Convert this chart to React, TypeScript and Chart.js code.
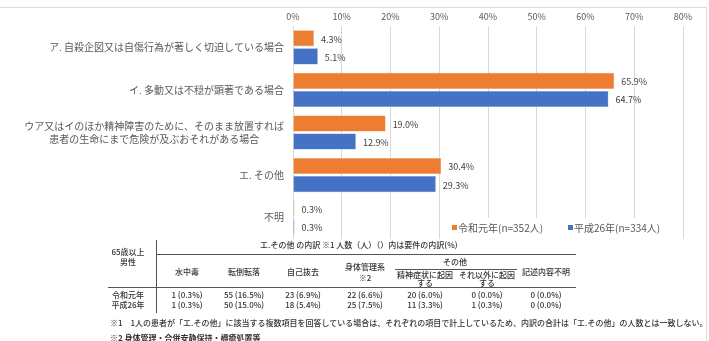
import React, { useEffect, useRef } from 'react';
import { Chart, registerables } from 'chart.js';
Chart.register(...registerables);

const categories: (string | string[])[] = [
  'ア. 自殺企図又は自傷行為が著しく切迫している場合',
  'イ. 多動又は不穏が顕著である場合',
  ['ウア又はイのほか精神障害のために、そのまま放置すれば', '患者の生命にまで危険が及ぶおそれがある場合'],
  'エ. その他',
  '不明',
];
const seriesLabels = ['令和元年(n=352人)', '平成26年(n=334人)'];
const seriesColors = ['#ED7D31', '#4472C4'];
const reiwa = [4.3, 65.9, 19.0, 30.4, 0.3];
const heisei = [5.1, 64.7, 12.9, 29.3, 0.3];
const xMax = 80;
const xStep = 10;

const tableTitle = 'エ.その他 の内訳 ※1 人数（人）（）内は要件の内訳(%)';
const tableCorner = ['65歳以上', '男性'];
const tableCols = ['水中毒', '転倒転落', '自己抜去', '身体管理系', 'その他', '記述内容不明'];
const otherSub = [['精神症状に起因', 'する'], ['それ以外に起因', 'する']];
const tableRows = ['令和元年', '平成26年'];
const reiwaCounts = [1, 55, 23, 22, 20, 0, 0];
const reiwaPct = [0.3, 16.5, 6.9, 6.6, 6.0, 0.0, 0.0];
const heiseiCounts = [1, 50, 18, 25, 11, 1, 0];
const heiseiPct = [0.3, 15.0, 5.4, 7.5, 3.3, 0.3, 0.0];
const footnotes = [
  '※1　1人の患者が「エ.その他」に該当する複数項目を回答している場合は、それぞれの項目で計上しているため、内訳の合計は「エ.その他」の人数とは一致しない。',
  '※2 身体管理・合併安静保持・褥瘡処置等',
];

const FONT = '"Noto Sans CJK JP", "Noto Sans", sans-serif';

const T = ({ x, y, children, align = 'center', size = 8, color = '#333', weight = 500 }: any) => {
  const style: React.CSSProperties = {
    position: 'absolute',
    top: y - size * 0.7,
    fontSize: size,
    lineHeight: `${size * 1.4}px`,
    whiteSpace: 'nowrap',
    color,
    fontWeight: weight,
    fontFamily: FONT,
  };
  if (align === 'center') {
    style.left = x;
    style.transform = 'translateX(-50%)';
  } else if (align === 'left') {
    style.left = x;
  } else {
    style.right = 709 - x;
  }
  return <div style={style}>{children}</div>;
};

const Line = ({ x1, y1, x2, y2, color = '#555', w = 1 }: any) => (
  <div
    style={{
      position: 'absolute',
      left: x1,
      top: y1,
      width: Math.max(w, x2 - x1),
      height: Math.max(w, y2 - y1),
      background: color,
    }}
  />
);

const customPlugin = {
  id: 'customDraw',
  afterDatasetsDraw(chart: any) {
    const ctx = chart.ctx;
    ctx.save();
    // data labels
    ctx.font = `9px ${FONT}`;
    ctx.fillStyle = '#404040';
    ctx.textAlign = 'left';
    ctx.textBaseline = 'middle';
    chart.data.datasets.forEach((ds: any, i: number) => {
      const meta = chart.getDatasetMeta(i);
      meta.data.forEach((bar: any, j: number) => {
        ctx.fillText(Number(ds.data[j]).toFixed(1) + '%', bar.x + 7, bar.y + 1);
      });
    });
    // category labels
    const yScale = chart.scales.y;
    ctx.font = `10px ${FONT}`;
    ctx.fillStyle = '#595959';
    const rightX = chart.chartArea.left - 9;
    categories.forEach((c, i) => {
      const y = yScale.getPixelForValue(i);
      const lines = Array.isArray(c) ? c : [c];
      if (lines.length === 1) {
        ctx.textAlign = 'right';
        ctx.fillText(lines[0], rightX, y);
      } else {
        const maxW = Math.max(...lines.map((l) => ctx.measureText(l).width));
        const cx = rightX - maxW / 2;
        ctx.textAlign = 'center';
        const lh = 13;
        lines.forEach((l, k) => {
          ctx.fillText(l, cx, y + (k - (lines.length - 1) / 2) * lh);
        });
      }
    });
    // legend
    const ly = chart.chartArea.bottom - 11;
    ctx.fillStyle = '#ffffff';
    ctx.fillRect(442, chart.chartArea.bottom - 21, 232, 22);
    const lx = [452, 568];
    ctx.font = `10px ${FONT}`;
    ctx.textAlign = 'left';
    seriesLabels.forEach((lab, i) => {
      ctx.fillStyle = seriesColors[i];
      ctx.fillRect(lx[i], ly - 3, 5, 5);
      ctx.fillStyle = '#595959';
      ctx.fillText(lab, lx[i] + 6, ly);
    });
    ctx.restore();
  },
};

export default function App() {
  const ref = useRef<HTMLCanvasElement>(null);
  useEffect(() => {
    if (!ref.current) return;
    const chart = new Chart(ref.current, {
      type: 'bar',
      data: {
        labels: categories.map((c) => (Array.isArray(c) ? c.join('') : c)),
        datasets: [
          {
            label: seriesLabels[0],
            data: reiwa,
            backgroundColor: seriesColors[0],
            borderColor: '#F4A46E',
            borderWidth: 0.5,
            barPercentage: 0.89,
            categoryPercentage: 0.85,
          },
          {
            label: seriesLabels[1],
            data: heisei,
            backgroundColor: seriesColors[1],
            borderColor: '#7C9BD6',
            borderWidth: 0.5,
            barPercentage: 0.89,
            categoryPercentage: 0.85,
          },
        ],
      },
      options: {
        indexAxis: 'y',
        responsive: false,
        animation: false,
        layout: { padding: { left: 0, right: 26, top: 0, bottom: 6 } },
        plugins: { legend: { display: false }, tooltip: { enabled: false } },
        scales: {
          x: {
            position: 'top',
            min: 0,
            max: xMax,
            ticks: {
              stepSize: xStep,
              padding: 4,
              color: '#595959',
              font: { size: 9, family: FONT },
              callback: (v: any) => v + '%',
            },
            grid: { color: '#d9d9d9', drawTicks: false },
            border: { display: false },
            afterFit: (s: any) => {
              s.height = 26;
            },
          },
          y: {
            ticks: { display: false },
            grid: { display: false },
            border: { display: false },
            afterFit: (s: any) => {
              s.width = 293;
            },
          },
        },
      },
      plugins: [customPlugin],
    } as any);
    return () => chart.destroy();
  }, []);

  const colX = [187, 244, 303, 365, 425, 487, 546];
  const fmt = (n: number, p: number) => `${n} (${p.toFixed(1)}%)`;

  return (
    <div style={{ position: 'relative', width: 709, height: 341, overflow: 'hidden', background: '#fff' }}>
      <style>{'body{margin:0}'}</style>
      <canvas ref={ref} width={709} height={245} style={{ position: 'absolute', left: 0, top: 0, display: 'block' }} />
      <Line x1={0} y1={7} x2={707} y2={7} color="#dcdcdc" />
      <Line x1={706} y1={7} x2={707} y2={341} color="#dcdcdc" />

      {/* table lines */}
      <Line x1={156} y1={240} x2={157} y2={313} color="#555" />
      <Line x1={156} y1={254} x2={576} y2={255} color="#555" />
      <Line x1={395} y1={269} x2={517} y2={270} color="#555" />
      <Line x1={108} y1={287} x2={576} y2={288} color="#555" />

      <T x={260} y={245} align="left">{tableTitle}</T>
      <T x={128} y={252}>{tableCorner[0]}</T>
      <T x={128} y={262}>{tableCorner[1]}</T>
      <T x={colX[0]} y={272}>{tableCols[0]}</T>
      <T x={colX[1]} y={272}>{tableCols[1]}</T>
      <T x={colX[2]} y={272}>{tableCols[2]}</T>
      <T x={colX[3]} y={267}>{tableCols[3]}</T>
      <T x={colX[3]} y={278}>※2</T>
      <T x={455} y={262}>{tableCols[4]}</T>
      <T x={colX[4]} y={275}>{otherSub[0][0]}</T>
      <T x={colX[4]} y={283}>{otherSub[0][1]}</T>
      <T x={colX[5]} y={275}>{otherSub[1][0]}</T>
      <T x={colX[5]} y={283}>{otherSub[1][1]}</T>
      <T x={colX[6]} y={272}>{tableCols[5]}</T>

      <T x={128} y={295}>{tableRows[0]}</T>
      <T x={128} y={305}>{tableRows[1]}</T>
      {reiwaCounts.map((n, i) => (
        <T key={'r' + i} x={colX[i]} y={295}>{fmt(n, reiwaPct[i])}</T>
      ))}
      {heiseiCounts.map((n, i) => (
        <T key={'h' + i} x={colX[i]} y={305}>{fmt(n, heiseiPct[i])}</T>
      ))}

      <T x={110} y={323} align="left" size={8}>{footnotes[0]}</T>
      <T x={110} y={338} align="left" size={8} weight={700}>{footnotes[1]}</T>
    </div>
  );
}
